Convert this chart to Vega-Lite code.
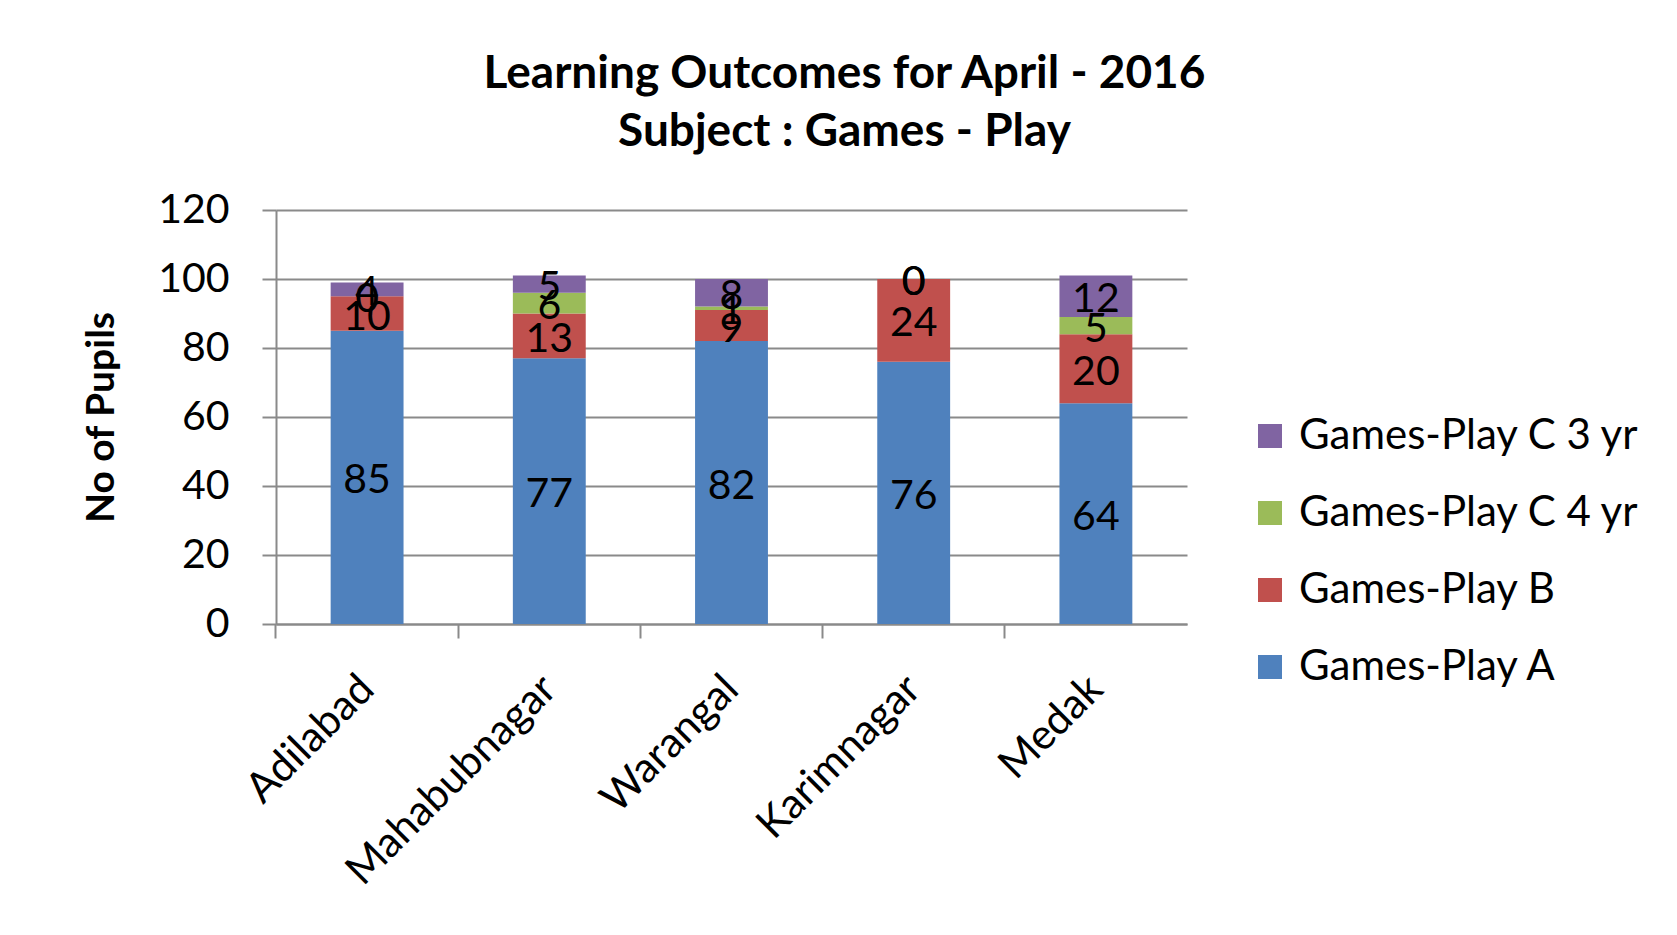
{
  "$schema": "https://vega.github.io/schema/vega-lite/v6.json",
  "autosize": {"type": "none"},
  "width": 911,
  "height": 414,
  "padding": {"left": 276, "top": 210, "right": 490, "bottom": 311},
  "background": "white",
  "config": {"view": {"stroke": null}},
  "title": {
    "text": ["Learning Outcomes for April - 2016", "Subject : Games - Play"],
    "font": "Lato",
    "fontWeight": "bold",
    "fontSize": 46,
    "lineHeight": 58,
    "color": "#000000",
    "anchor": "middle",
    "frame": "group",
    "dx": 113,
    "offset": 33
  },
  "resolve": {"axis": {"x": "independent"}},
  "data": {
    "values": [
      {"district": "Adilabad", "series": "Games-Play A", "pupils": 85},
      {"district": "Adilabad", "series": "Games-Play B", "pupils": 10},
      {"district": "Adilabad", "series": "Games-Play C 4 yr", "pupils": 0},
      {"district": "Adilabad", "series": "Games-Play C 3 yr", "pupils": 4},
      {"district": "Mahabubnagar", "series": "Games-Play A", "pupils": 77},
      {"district": "Mahabubnagar", "series": "Games-Play B", "pupils": 13},
      {"district": "Mahabubnagar", "series": "Games-Play C 4 yr", "pupils": 6},
      {"district": "Mahabubnagar", "series": "Games-Play C 3 yr", "pupils": 5},
      {"district": "Warangal", "series": "Games-Play A", "pupils": 82},
      {"district": "Warangal", "series": "Games-Play B", "pupils": 9},
      {"district": "Warangal", "series": "Games-Play C 4 yr", "pupils": 1},
      {"district": "Warangal", "series": "Games-Play C 3 yr", "pupils": 8},
      {"district": "Karimnagar", "series": "Games-Play A", "pupils": 76},
      {"district": "Karimnagar", "series": "Games-Play B", "pupils": 24},
      {"district": "Karimnagar", "series": "Games-Play C 4 yr", "pupils": 0},
      {"district": "Karimnagar", "series": "Games-Play C 3 yr", "pupils": 0},
      {"district": "Medak", "series": "Games-Play A", "pupils": 64},
      {"district": "Medak", "series": "Games-Play B", "pupils": 20},
      {"district": "Medak", "series": "Games-Play C 4 yr", "pupils": 5},
      {"district": "Medak", "series": "Games-Play C 3 yr", "pupils": 12}
    ]
  },
  "transform": [
    {"stack": "pupils", "groupby": ["district"], "as": ["lo", "hi"]}
  ],
  "layer": [
    {
      "mark": {"type": "bar"},
      "encoding": {
        "x": {
          "field": "district",
          "type": "nominal",
          "sort": ["Adilabad", "Mahabubnagar", "Warangal", "Karimnagar", "Medak"],
          "scale": {"paddingInner": 0.6, "paddingOuter": 0.3},
          "axis": {
            "title": null,
            "orient": "bottom",
            "labelAngle": -45,
            "labelAlign": "right",
            "labelBaseline": "middle",
            "labelFont": "Lato",
            "labelFontSize": 42,
            "labelColor": "#000000",
            "labelPadding": 58,
            "labelLimit": 600,
            "ticks": false,
            "domainColor": "#8a8a8a",
            "domainWidth": 2,
            "grid": false
          }
        },
        "y": {
          "field": "lo",
          "type": "quantitative",
          "scale": {"domain": [0, 120], "nice": false},
          "axis": {
            "title": "No of Pupils",
            "titleFont": "Lato",
            "titleFontSize": 39,
            "titleFontWeight": "bold",
            "titleColor": "#000000",
            "titlePadding": 36,
            "values": [0, 20, 40, 60, 80, 100, 120],
            "labelFont": "Lato",
            "labelFontSize": 41,
            "labelColor": "#000000",
            "labelPadding": 33,
            "tickSize": 14,
            "tickColor": "#8a8a8a",
            "tickWidth": 2,
            "domainColor": "#8a8a8a",
            "domainWidth": 2,
            "grid": true,
            "gridColor": "#8a8a8a",
            "gridWidth": 2
          }
        },
        "y2": {"field": "hi"},
        "color": {
          "field": "series",
          "type": "nominal",
          "scale": {
            "domain": ["Games-Play C 3 yr", "Games-Play C 4 yr", "Games-Play B", "Games-Play A"],
            "range": ["#8064A2", "#9BBB59", "#C0504D", "#4F81BD"]
          },
          "legend": {
            "title": null,
            "orient": "none",
            "legendX": 973,
            "legendY": 205,
            "padding": 0,
            "symbolType": "square",
            "symbolSize": 576,
            "symbolStrokeWidth": 0,
            "symbolOpacity": 1,
            "labelFont": "Lato",
            "labelFontSize": 42,
            "labelColor": "#000000",
            "labelOffset": 8,
            "labelLimit": 600,
            "rowPadding": 35
          }
        }
      }
    },
    {
      "transform": [
        {"fold": ["lo", "hi"], "as": ["edge", "pos"]},
        {
          "aggregate": [
            {"op": "mean", "field": "pos", "as": "mid"},
            {"op": "max", "field": "pupils", "as": "val"}
          ],
          "groupby": ["district", "series"]
        }
      ],
      "mark": {"type": "text", "font": "Lato", "fontSize": 41, "color": "#000000", "align": "center", "baseline": "middle", "dy": 4},
      "encoding": {
        "x": {
          "field": "district",
          "type": "nominal",
          "sort": ["Adilabad", "Mahabubnagar", "Warangal", "Karimnagar", "Medak"],
          "axis": {
            "title": null,
            "orient": "bottom",
            "labels": false,
            "domain": false,
            "grid": false,
            "ticks": true,
            "tickSize": 14,
            "tickColor": "#8a8a8a",
            "tickWidth": 2,
            "bandPosition": -0.75
          }
        },
        "y": {"field": "mid", "type": "quantitative"},
        "text": {"field": "val", "type": "quantitative"}
      }
    }
  ]
}
